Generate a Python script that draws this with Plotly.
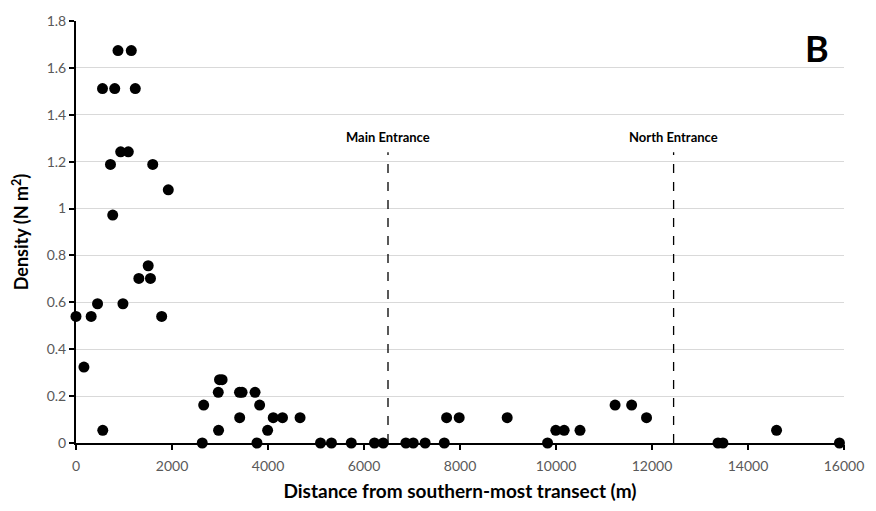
import plotly.graph_objects as go

distance = [0, 165, 316, 449, 552, 558, 718, 765, 807, 875, 931, 978, 1090, 1152, 1235,
            1309, 1504, 1551, 1599, 1785, 1923, 2630, 2660, 2964, 2970, 2990, 3044, 3406,
            3410, 3460, 3730, 3770, 3826, 3992, 4109, 4302, 4668, 5094, 5322, 5735, 6219,
            6400, 6873, 7026, 7274, 7673, 7721, 7983, 8983, 9824, 9996, 10170, 10500,
            11231, 11576, 11886, 13375, 13478, 14595, 15905]
density = [0.54, 0.324, 0.54, 0.594, 1.512, 0.054, 1.188, 0.972, 1.512, 1.674, 1.242, 0.594,
           1.242, 1.674, 1.512, 0.702, 0.756, 0.702, 1.188, 0.54, 1.08, 0, 0.162, 0.216,
           0.054, 0.27, 0.27, 0.216, 0.108, 0.216, 0.216, 0, 0.162, 0.054, 0.108, 0.108,
           0.108, 0, 0, 0, 0, 0, 0, 0, 0, 0, 0.108, 0.108, 0.108, 0, 0.054, 0.054, 0.054,
           0.162, 0.162, 0.108, 0, 0, 0.054, 0]

entrance_names = ["Main Entrance", "North Entrance"]
entrance_x = [6500, 12450]
entrance_top = 1.24

x_ticks = list(range(0, 16001, 2000))
x_tick_text = [str(v) for v in x_ticks]
y_ticks = [0, 0.2, 0.4, 0.6, 0.8, 1, 1.2, 1.4, 1.6, 1.8]
y_tick_text = ["0", "0.2", "0.4", "0.6", "0.8", "1", "1.2", "1.4", "1.6", "1.8"]

FONT = "Lato, 'Open Sans', sans-serif"
L, R, T, B = 76, 26, 19, 67.5
PW, PH = 876 - L - R, 511 - T - B

fig = go.Figure()
fig.add_trace(go.Scatter(
    x=distance, y=density, mode="markers",
    marker=dict(color="black", size=11),
    cliponaxis=False, showlegend=False, hoverinfo="skip"))

for name, ex in zip(entrance_names, entrance_x):
    fig.add_shape(type="line", x0=ex, x1=ex, y0=0, y1=entrance_top,
                  xref="x", yref="y", line=dict(color="black", width=1.3, dash="dash"))
    fig.add_annotation(x=ex, y=(443.5 - 136) / PH * 1.8, text=f"<b>{name}</b>", showarrow=False,
                       xref="x", yref="y", yanchor="middle", xanchor="center",
                       font=dict(family=FONT, size=13, color="black"))

fig.add_annotation(x=(822.5 - L) / PW, y=(443.5 - 46.5) / PH, xref="x domain", yref="y domain",
                   text="<b>B</b>", showarrow=False, xanchor="center", yanchor="middle",
                   font=dict(family=FONT, size=36, color="black"))

fig.update_layout(
    width=876, height=511,
    margin=dict(l=L, r=R, t=T, b=B),
    paper_bgcolor="white", plot_bgcolor="white",
    font=dict(family=FONT, color="#595959", size=14),
    xaxis=dict(range=[0, 16000], tickvals=x_ticks, ticktext=x_tick_text,
               showgrid=False, zeroline=False,
               showline=True, linecolor="black", linewidth=2,
               ticks="outside", ticklen=5, tickwidth=2, tickcolor="black",
               ticklabelstandoff=4,
               title=dict(text="<b>Distance from southern-most transect (m)</b>",
                          font=dict(family=FONT, size=19, color="black"), standoff=12)),
    yaxis=dict(range=[0, 1.8], tickvals=y_ticks, ticktext=y_tick_text,
               showgrid=True, gridcolor="#d9d9d9", gridwidth=1, zeroline=False,
               showline=True, linecolor="black", linewidth=2,
               ticks="outside", ticklen=5, tickwidth=2, tickcolor="black",
               title=dict(text="<b>Density (N m<sup>2</sup>)</b>",
                          font=dict(family=FONT, size=18, color="black"), standoff=13)),
)

fig.write_html("out.html", config={"displayModeBar": False},
               post_script="document.body.style.margin='0';document.body.style.overflow='hidden';")
